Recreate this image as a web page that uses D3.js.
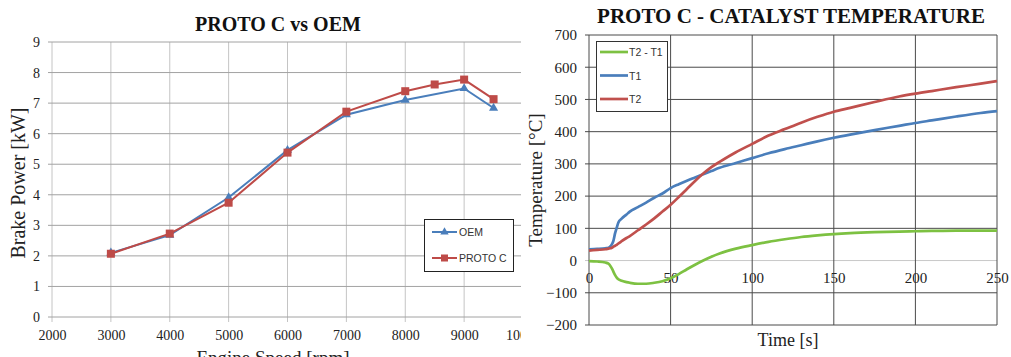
<!DOCTYPE html>
<html><head><meta charset="utf-8">
<script src="https://cdn.jsdelivr.net/npm/d3@7/dist/d3.min.js"></script>
<style>
html,body{margin:0;padding:0;background:#fff;}
svg{display:block;}
</style></head>
<body>
<svg id="c" width="1011" height="357"></svg>
<script>
// ---------- Left chart data ----------
const oemSpeed = [3000, 4000, 5000, 6000, 7000, 8000, 9000, 9500];
const oemPower = [2.1, 2.68, 3.91, 5.46, 6.62, 7.1, 7.48, 6.84];
const protoSpeed = [3000, 4000, 5000, 6000, 7000, 8000, 8500, 9000, 9500];
const protoPower = [2.07, 2.73, 3.74, 5.38, 6.72, 7.39, 7.61, 7.77, 7.13];
const speedTicks = [2000, 3000, 4000, 5000, 6000, 7000, 8000, 9000, 10000];
const powerTicks = [0, 1, 2, 3, 4, 5, 6, 7, 8, 9];

// ---------- Right chart data ----------
const time = [0, 5, 10, 12, 13, 14, 15, 16, 17, 18, 20, 23, 25, 30, 35, 40, 45, 50, 55, 60, 65, 70, 75, 80, 90, 100, 110, 120, 130, 140, 150, 160, 175, 190, 200, 210, 225, 240, 250];
const t1 = [35, 36, 38, 40, 44, 50, 62, 85, 102, 118, 130, 143, 152, 166, 180, 195, 208, 225, 237, 248, 258, 268, 278, 288, 303, 318, 333, 346, 358, 370, 381, 391, 405, 418, 427, 435, 447, 458, 464];
const t2 = [31, 33, 35, 37, 38, 40, 43, 46, 49, 53, 60, 70, 76, 94, 112, 131, 152, 173, 197, 222, 247, 270, 290, 306, 336, 362, 388, 408, 428, 446, 462, 474, 492, 509, 518, 526, 538, 549, 557];
const dT = [-2, -3, -6, -10, -16, -24, -35, -45, -53, -58, -63, -67, -69, -72, -72, -69, -64, -55, -42, -27, -13, 0, 12, 22, 37, 48, 58, 66, 73, 78, 82, 85, 88, 90, 91, 92, 93, 93, 93];
const timeTicks = [0, 50, 100, 150, 200, 250];
const tempTicks = [-200, -100, 0, 100, 200, 300, 400, 500, 600, 700];

const svg = d3.select("#c");
const serif = "'Liberation Serif','Times New Roman',serif";
const sans = "'Liberation Sans',Arial,sans-serif";

// ================= LEFT CHART =================
svg.append("clipPath").attr("id","clipL").append("rect").attr("x",0).attr("y",0).attr("width",521).attr("height",357);
const L = svg.append("g").attr("clip-path","url(#clipL)");
const xL = d3.scaleLinear().domain([2000, 10000]).range([52, 523]);
const yL = d3.scaleLinear().domain([0, 9]).range([317, 42]);

// vertical grid
L.append("g").selectAll("line").data(speedTicks).join("line")
  .attr("x1", d => xL(d)).attr("x2", d => xL(d))
  .attr("y1", yL(9)).attr("y2", yL(0) + 5)
  .attr("stroke", "#c4c4c4").attr("stroke-width", 1);
// horizontal grid
L.append("g").selectAll("line").data(powerTicks).join("line")
  .attr("x1", xL(2000) - 4).attr("x2", xL(10000))
  .attr("y1", d => yL(d)).attr("y2", d => yL(d))
  .attr("stroke", "#a2a2a2").attr("stroke-width", 1);

// axes labels
const axLx = L.append("g").attr("transform", `translate(0,${yL(0)})`)
  .call(d3.axisBottom(xL).tickValues(speedTicks).tickSize(0).tickPadding(13).tickFormat(d3.format("d")));
axLx.select(".domain").remove();
axLx.attr("font-family", serif).selectAll("text").attr("font-family", serif).attr("font-size", 14).attr("fill", "#222");
const axLy = L.append("g").attr("transform", `translate(${xL(2000)},0)`)
  .call(d3.axisLeft(yL).tickValues(powerTicks).tickSize(0).tickPadding(12).tickFormat(d3.format("d")));
axLy.select(".domain").remove();
axLy.attr("font-family", serif).selectAll("text").attr("font-family", serif).attr("font-size", 14).attr("fill", "#222");

// lines
const blueL = "#4a7ebb", redL = "#be4b48";
const lineL = d3.line().x(d => xL(d[0])).y(d => yL(d[1]));
const oem = oemSpeed.map((s, i) => [s, oemPower[i]]);
const proto = protoSpeed.map((s, i) => [s, protoPower[i]]);
L.append("path").attr("d", lineL(oem)).attr("fill", "none").attr("stroke", blueL).attr("stroke-width", 2);
L.append("g").selectAll("path").data(oem).join("path")
  .attr("d", d3.symbol(d3.symbolTriangle, 36)())
  .attr("transform", d => `translate(${xL(d[0])},${yL(d[1])})`)
  .attr("fill", blueL);
L.append("path").attr("d", lineL(proto)).attr("fill", "none").attr("stroke", redL).attr("stroke-width", 2);
L.append("g").selectAll("rect").data(proto).join("rect")
  .attr("x", d => xL(d[0]) - 4).attr("y", d => yL(d[1]) - 4)
  .attr("width", 8).attr("height", 8).attr("fill", redL);

// titles
L.append("text").attr("x", 278).attr("y", 31).attr("text-anchor", "middle")
  .attr("font-family", serif).attr("font-weight", "bold").attr("font-size", 20).attr("fill", "#111")
  .text("PROTO C vs OEM");
L.append("text").attr("transform", "translate(25,183) rotate(-90)").attr("text-anchor", "middle")
  .attr("font-family", serif).attr("font-size", 20).attr("fill", "#222")
  .text("Brake Power [kW]");
L.append("text").attr("x", 273).attr("y", 364).attr("text-anchor", "middle")
  .attr("font-family", serif).attr("font-size", 19).attr("fill", "#222")
  .text("Engine Speed [rpm]");

// legend
const lgL = L.append("g");
lgL.append("rect").attr("x", 424.5).attr("y", 219.5).attr("width", 89).attr("height", 52)
  .attr("fill", "#fff").attr("stroke", "#222").attr("stroke-width", 1);
const legLItems = [{name: "OEM", c: blueL, m: "tri"}, {name: "PROTO C", c: redL, m: "sq"}];
legLItems.forEach((it, i) => {
  const yy = 232 + i * 26;
  lgL.append("line").attr("x1", 432).attr("x2", 457).attr("y1", yy).attr("y2", yy).attr("stroke", it.c).attr("stroke-width", 2);
  if (it.m === "tri") lgL.append("path").attr("d", d3.symbol(d3.symbolTriangle, 30)()).attr("transform", `translate(444.5,${yy})`).attr("fill", it.c);
  else lgL.append("rect").attr("x", 441).attr("y", yy - 3.5).attr("width", 7).attr("height", 7).attr("fill", it.c);
  lgL.append("text").attr("x", 459).attr("y", yy + 4).attr("font-family", sans).attr("font-size", 10.5).attr("fill", "#333").text(it.name);
});

// ================= RIGHT CHART =================
const R = svg.append("g");
const xR = d3.scaleLinear().domain([0, 250]).range([589, 997]);
const yR = d3.scaleLinear().domain([-200, 700]).range([325, 35]);

// horizontal grid
R.append("g").selectAll("line").data(tempTicks).join("line")
  .attr("x1", xR(0) - 4).attr("x2", xR(250))
  .attr("y1", d => yR(d)).attr("y2", d => yR(d))
  .attr("stroke", d => d === 0 ? "#c8c8c8" : "#4a4a4a").attr("stroke-width", 1);
// vertical grid
R.append("g").selectAll("line").data(timeTicks).join("line")
  .attr("x1", d => xR(d)).attr("x2", d => xR(d))
  .attr("y1", yR(700)).attr("y2", yR(-200))
  .attr("stroke", "#4a4a4a").attr("stroke-width", 1);

const axRx = R.append("g").attr("transform", `translate(0,${yR(0)})`)
  .call(d3.axisBottom(xR).tickValues(timeTicks).tickSize(0).tickPadding(12).tickFormat(d3.format("d")));
axRx.select(".domain").remove();
axRx.attr("font-family", serif).selectAll("text").attr("font-family", serif).attr("font-size", 15).attr("fill", "#222");
const axRy = R.append("g").attr("transform", `translate(${xR(0)},0)`)
  .call(d3.axisLeft(yR).tickValues(tempTicks).tickSize(0).tickPadding(12).tickFormat(d3.format("d")));
axRy.select(".domain").remove();
axRy.attr("font-family", serif).selectAll("text").attr("font-family", serif).attr("font-size", 15).attr("fill", "#222");

const green = "#7dc142", blueR = "#4a7ebb", redR = "#c0504d";
const lineR = d3.line().x(d => xR(d[0])).y(d => yR(d[1])).curve(d3.curveMonotoneX);
const ser = [{v: dT, c: green}, {v: t1, c: blueR}, {v: t2, c: redR}];
ser.forEach(s => {
  R.append("path").attr("d", lineR(time.map((t, i) => [t, s.v[i]])))
    .attr("fill", "none").attr("stroke", s.c).attr("stroke-width", 2.7).attr("stroke-linejoin", "round");
});

R.append("text").attr("x", 791).attr("y", 23).attr("text-anchor", "middle")
  .attr("font-family", serif).attr("font-weight", "bold").attr("font-size", 21).attr("fill", "#111")
  .text("PROTO C - CATALYST TEMPERATURE");
R.append("text").attr("transform", "translate(542,180) rotate(-90)").attr("text-anchor", "middle")
  .attr("font-family", serif).attr("font-size", 19).attr("fill", "#222")
  .text("Temperature [°C]");
R.append("text").attr("x", 788).attr("y", 346).attr("text-anchor", "middle")
  .attr("font-family", serif).attr("font-size", 18).attr("fill", "#222")
  .text("Time [s]");

const lgR = R.append("g");
lgR.append("rect").attr("x", 596.5).attr("y", 41.5).attr("width", 71).attr("height", 70)
  .attr("fill", "#fff").attr("stroke", "#333").attr("stroke-width", 1);
const legRItems = [{name: "T2 - T1", c: green}, {name: "T1", c: blueR}, {name: "T2", c: redR}];
legRItems.forEach((it, i) => {
  const yy = 52 + i * 23.5;
  lgR.append("line").attr("x1", 600).attr("x2", 628).attr("y1", yy).attr("y2", yy).attr("stroke", it.c).attr("stroke-width", 2.7);
  lgR.append("text").attr("x", 629).attr("y", yy + 4).attr("font-family", sans).attr("font-size", 10.5).attr("fill", "#333").text(it.name);
});
</script>
</body></html>
